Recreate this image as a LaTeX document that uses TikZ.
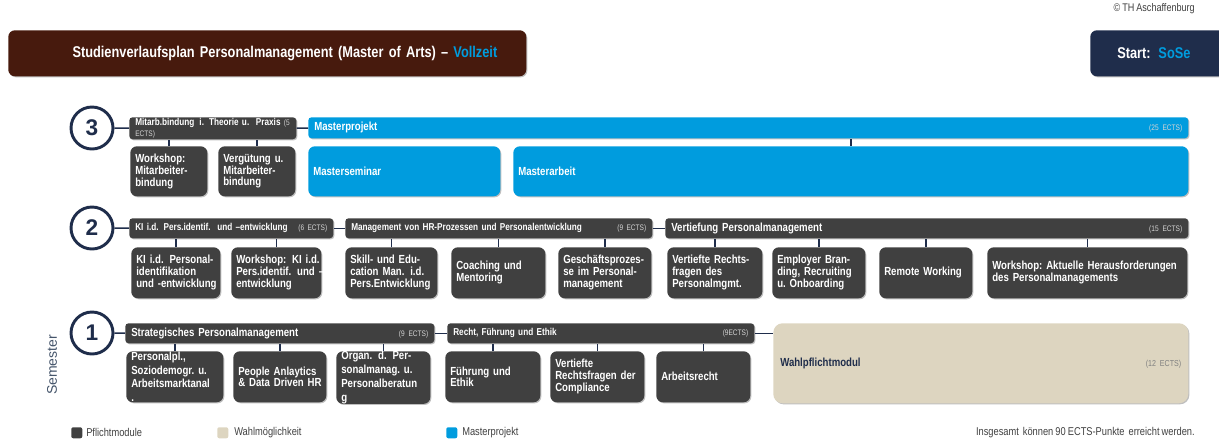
\documentclass[tikz,border=0pt]{standalone}
\usepackage{fontspec}
\setmainfont{Liberation Sans}[FakeStretch=0.82,WordSpace=0.8]
\newfontfamily\plainfont{Liberation Sans}
\usetikzlibrary{shadows}

\definecolor{modgray}{HTML}{404040}
\definecolor{navy}{HTML}{1F2D4B}
\definecolor{mpblue}{HTML}{009CDE}
\definecolor{beige}{HTML}{DDD5C0}
\definecolor{brown}{HTML}{471A0D}
\definecolor{semcol}{HTML}{44546A}
\definecolor{ectsgray}{HTML}{D4D4D4}
\definecolor{txtgray}{HTML}{404040}

\newcommand\ects[1]{\hfill{\mdseries\fontsize{6}{7}\selectfont\color{ectsgray}(#1)}}

\tikzset{
  shd/.style={drop shadow={shadow xshift=0.8pt, shadow yshift=-0.8pt, opacity=0.25, fill=black}},
  modbox/.style 2 args={anchor=north west, text width=0.75pt*#1-7.5pt, minimum height=0.75pt*#2,
    inner xsep=3.75pt, inner ysep=0pt, align=left, rounded corners=5pt, fill=modgray, text=white,
    font=\bfseries\fontsize{8.8}{8.9}\selectfont, shd},
  hdr/.style 2 args={anchor=north west, text width=0.75pt*#1-9pt, minimum height=0.75pt*#2,
    inner xsep=4.5pt, inner ysep=0pt, align=left, rounded corners=2.5pt, fill=modgray, text=white,
    font=\bfseries\fontsize{7.5}{8}\selectfont, shd},
  mp/.style={fill=mpblue},
  big/.style={font=\bfseries\fontsize{8.8}{9}\selectfont},
  sem/.style={circle, draw=navy, line width=2.2pt, fill=white, minimum size=31.5pt, inner sep=0pt,
    font=\plainfont\bfseries\fontsize{17}{17}\selectfont, text=navy},
  conn/.style={draw=navy, line width=1.1pt},
  legsq/.style={anchor=north west, minimum size=8.25pt, inner sep=0pt, rounded corners=1.5pt},
  legtxt/.style={anchor=west, inner sep=0pt, text=txtgray, font=\fontsize{8.5}{9}\selectfont},
}

\begin{document}
\begin{tikzpicture}[x=0.75pt,y=0.75pt,yscale=-1,xscale=1]
\useasboundingbox (0,0) rectangle (1219,443);

% Text Node
\node[anchor=east, inner sep=0pt, text=txtgray, font=\fontsize{8.3}{9}\selectfont] (copy) at (1195,9) {\textcopyright{} TH Aschaffenburg};

%Title bar
\node[anchor=north west, fill=brown, rounded corners=5pt, minimum height=34.5pt, text width=0.75pt*460,
  inner xsep=0.75pt*29, inner ysep=0pt, align=right, text=white, font=\bfseries\fontsize{11.7}{13}\selectfont, shd]
  (title) at (8,30) {Studienverlaufsplan Personalmanagement (Master of Arts) -- \textcolor{mpblue}{Vollzeit}};
%Start box
\node[anchor=north west, fill=navy, rounded corners=5pt, minimum height=34.5pt, text width=0.75pt*95,
  inner xsep=0.75pt*27, inner ysep=0pt, align=left, text=white, font=\bfseries\fontsize{11.7}{13}\selectfont, shd]
  (start) at (1090,30) {Start: \textcolor{mpblue}{SoSe}};

%Semester 3
\node[sem] (s3) at (92,128) {3};
\node[hdr={167}{22}] (h31) at (129,117) {Mitarb.bindung\, i. Theorie u.\, Praxis {\mdseries\fontsize{6}{6.5}\selectfont\color{ectsgray}(5\\ECTS)}};
\node[hdr={880}{21}, mp, big] (h32) at (308,117) {Masterprojekt\ects{25 ECTS}};
\node[modbox={77}{50}] (c31) at (130,146) {Workshop:\\Mitarbeiter-\\bindung};
\node[modbox={77}{50}] (c32) at (218,146) {Vergütung~u.\\Mitarbeiter-\\bindung};
\node[modbox={192}{50}, mp] (c33) at (308,146) {Masterseminar};
\node[modbox={675}{50}, mp] (c34) at (513,146) {Masterarbeit};

\draw[conn] (s3) -- (h31);
\draw[conn] (h31) -- (h32);
\foreach \c in {c31,c32}
  \draw[conn] (\c.north) -- (\c.north |- h31.south);
\draw[conn] (c34.north) -- (c34.north |- h32.south);

%Semester 2
\node[sem] (s2) at (92,228) {2};
\node[hdr={204}{20}] (h21) at (129,218) {KI i.d. Pers.identif.\, und --entwicklung\ects{6 ECTS}};
\node[hdr={307}{20}] (h22) at (345,218) {Management von HR-Prozessen und Personalentwicklung\ects{9 ECTS}};
\node[hdr={523}{20}, big] (h23) at (665,218) {Vertiefung Personalmanagement\ects{15 ECTS}};
\node[modbox={89}{51}] (c21) at (131,247) {\mbox{KI i.d. Personal-}\\identifikation\\\mbox{und -entwicklung}};
\node[modbox={90}{51}] (c22) at (231,247) {\mbox{Workshop: KI i.d.}\\\mbox{Pers.identif. und --}\\entwicklung};
\node[modbox={92}{51}] (c23) at (345,247) {\mbox{Skill- und Edu-}\\\mbox{cation Man. i.d.}\\Pers.Entwicklung};
\node[modbox={94}{51}] (c24) at (451,247) {Coaching~und\\Mentoring};
\node[modbox={93}{51}] (c25) at (558,247) {\mbox{Geschäftsprozes-}\\\mbox{se im Personal-}\\management};
\node[modbox={95}{51}] (c26) at (667,247) {\mbox{Vertiefte Rechts-}\\fragen~des\\Personalmgmt.};
\node[modbox={93}{51}] (c27) at (772,247) {\mbox{Employer Bran-}\\\mbox{ding, Recruiting}\\u.~Onboarding};
\node[modbox={93}{51}] (c28) at (879,247) {Remote~Working};
\node[modbox={200}{51}] (c29) at (987,247) {Workshop:~Aktuelle~Herausforderungen\\des~Personalmanagements};

\draw[conn] (s2) -- (h21);
\draw[conn] (h21) -- (h22);
\draw[conn] (h22) -- (h23);
\foreach \c in {c21,c22}
  \draw[conn] (\c.north) -- (\c.north |- h21.south);
\foreach \c in {c23,c24,c25}
  \draw[conn] (\c.north) -- (\c.north |- h22.south);
\foreach \c in {c26,c27,c28,c29}
  \draw[conn] (\c.north) -- (\c.north |- h23.south);

%Semester 1
\node[sem] (s1) at (92,333) {1};
\node[hdr={309}{20}, big] (h11) at (125,323) {Strategisches Personalmanagement\ects{9 ECTS}};
\node[hdr={307}{20}] (h12) at (447,323) {Recht, Führung und Ethik\ects{9ECTS}};
\node[anchor=north west, fill=beige, rounded corners=7pt, minimum height=60pt, text width=0.75pt*401,
  inner xsep=0.75pt*7, inner ysep=0pt, align=left, font=\bfseries\fontsize{8.8}{9}\selectfont, text=navy, shd]
  (w1) at (773,323) {Wahlpflichtmodul\hfill{\mdseries\fontsize{6.5}{7}\selectfont\color{gray}(12 ECTS)}\\[6pt]};
\node[modbox={97}{51}, font=\bfseries\fontsize{8.8}{10.4}\selectfont] (c11) at (126,351) {Personalpl.,\\Soziodemogr.~u.\\Arbeitsmarktanal\\.};
\node[modbox={93}{51}] (c12) at (233,351) {People~Anlaytics\\\&~Data~Driven~HR};
\node[modbox={94}{51}, font=\bfseries\fontsize{8.8}{10.4}\selectfont] (c13) at (336,351) {\mbox{Organ. d. Per-}\\sonalmanag.~u.\\Personalberatun\\g};
\node[modbox={95}{51}] (c14) at (445,351) {Führung~und\\Ethik};
\node[modbox={94}{51}] (c15) at (550,351) {Vertiefte\\Rechtsfragen~der\\Compliance};
\node[modbox={94}{51}] (c16) at (656,351) {Arbeitsrecht};

\draw[conn] (s1) -- (h11);
\draw[conn] (h11) -- (h12);
\draw[conn] (h12.east) -- (h12.east -| w1.west);
\foreach \c in {c11,c12,c13}
  \draw[conn] (\c.north) -- (\c.north |- h11.south);
\foreach \c in {c14,c15,c16}
  \draw[conn] (\c.north) -- (\c.north |- h12.south);

% Text Node
\node[rotate=90, text=semcol, font=\plainfont\fontsize{10.5}{12}\selectfont] (semlbl) at (52,365) {Semester};

%Legend
\node[legsq, fill=modgray] (lg1) at (71,427) {};
\node[legtxt] (lt1) at (86,432.5) {Pflichtmodule};
\node[legsq, fill=beige] (lg2) at (217,427) {};
\node[legtxt] (lt2) at (234,432.5) {Wahlmöglichkeit};
\node[legsq, fill=mpblue] (lg3) at (446,427) {};
\node[legtxt] (lt3) at (462,432.5) {Masterprojekt};
\node[legtxt, anchor=east] (total) at (1195,432.5) {Insgesamt\, können 90 ECTS-Punkte\, erreicht werden.};
\end{tikzpicture}
\end{document}
